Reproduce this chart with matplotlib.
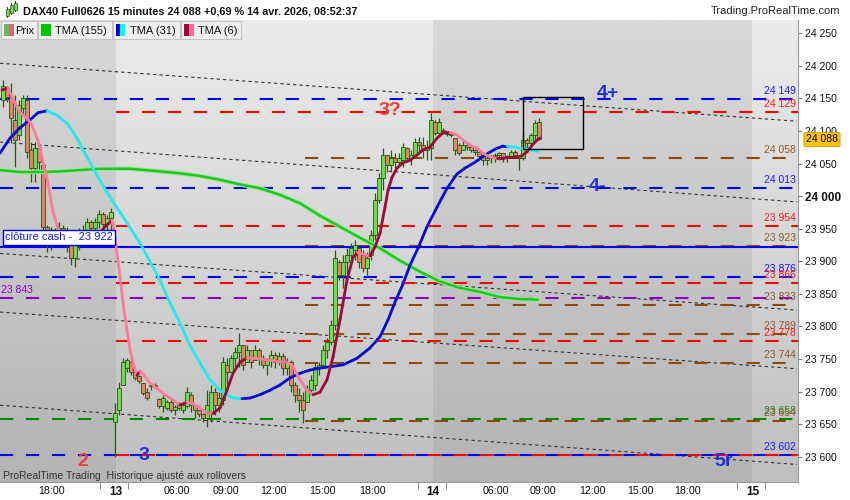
import matplotlib
matplotlib.use("Agg")
import matplotlib.pyplot as plt
import matplotlib.colors as mcolors
from matplotlib.patches import Rectangle
from matplotlib.collections import LineCollection
import numpy as np

plt.rcParams['font.family'] = ['Liberation Sans', 'DejaVu Sans']
plt.rcParams['lines.scale_dashes'] = False

# ---------------- data ----------------
opens = [24148, 24166, 24152, 24117, 24094, 24135, 24148, 24071, 24043, 24074, 24048, 23953, 23933, 23945,
         23936, 23951, 23933, 23943, 23905, 23925, 23940, 23948, 23960, 23951, 23960, 23972, 23957, 23966,
         23653, 23672, 23710, 23736, 23745, 23730, 23724, 23713, 23699, 23708, 23710, 23689, 23678, 23675,
         23684, 23672, 23682, 23672, 23678, 23695, 23679, 23672, 23666, 23659, 23669, 23699, 23679, 23687,
         23741, 23730, 23751, 23761, 23771, 23745, 23764, 23748, 23764, 23751, 23741, 23748, 23756, 23745,
         23755, 23736, 23745, 23710, 23695, 23687, 23684, 23702, 23710, 23738, 23741, 23764, 23776, 23802,
         23899, 23879, 23899, 23910, 23917, 23920, 23910, 23890, 23910, 23940, 23994, 24028, 24063, 24048,
         24058, 24052, 24055, 24074, 24058, 24063, 24083, 24078, 24071, 24074,
         24114, 24097, 24101, 24098, 24095, 24089, 24078, 24071, 24078, 24075, 24071, 24068, 24062, 24055,
         24058, 24062, 24063, 24066, 24058, 24062, 24068, 24063, 24058, 24086, 24081, 24094, 24114]
highs = [24178, 24169, 24174, 24155, 24148, 24155, 24155, 24083, 24083, 24078, 24048, 23956, 23953, 23951,
         23960, 23956, 23953, 23943, 23933, 23951, 23956, 23966, 23963, 23966, 23979, 23976, 23971, 23982,
         23682, 23715, 23751, 23751, 23751, 23733, 23725, 23713, 23705, 23713, 23713, 23690, 23695, 23687,
         23687, 23679, 23684, 23682, 23707, 23699, 23679, 23672, 23667, 23702, 23710, 23705, 23699, 23753,
         23751, 23756, 23768, 23790, 23771, 23771, 23764, 23771, 23767, 23756, 23751, 23764, 23761, 23761,
         23759, 23751, 23748, 23715, 23705, 23699, 23710, 23725, 23744, 23745, 23771, 23782, 23810, 23917,
         23902, 23910, 23920, 23928, 23933, 23925, 23917, 23914, 23948, 24005, 24035, 24074, 24063, 24071,
         24066, 24066, 24081, 24075, 24071, 24089, 24091, 24091, 24086, 24128,
         24117, 24120, 24105, 24100, 24097, 24089, 24081, 24086, 24083, 24077, 24072, 24069, 24066, 24062,
         24063, 24066, 24068, 24066, 24063, 24071, 24071, 24063, 24098, 24089, 24097, 24117, 24120]
lows = [24137, 24144, 24081, 24045, 24086, 24124, 24058, 24022, 24022, 24040, 23945, 23914, 23917, 23925,
        23930, 23925, 23914, 23894, 23891, 23917, 23925, 23940, 23940, 23945, 23951, 23951, 23945, 23943,
        23600, 23664, 23710, 23730, 23725, 23718, 23713, 23695, 23687, 23702, 23705, 23675, 23669, 23672,
        23669, 23664, 23672, 23667, 23675, 23669, 23659, 23661, 23653, 23646, 23653, 23664, 23669, 23679,
        23699, 23730, 23736, 23738, 23733, 23745, 23736, 23748, 23741, 23736, 23725, 23738, 23736, 23741,
        23725, 23725, 23699, 23684, 23669, 23652, 23684, 23699, 23702, 23725, 23738, 23751, 23771, 23794,
        23871, 23859, 23879, 23894, 23902, 23890, 23884, 23879, 23902, 23933, 23989, 24009, 24037, 24037,
        24043, 24048, 24045, 24052, 24048, 24060, 24066, 24058, 24055, 24055,
        24094, 24094, 24097, 24092, 24091, 24063, 24063, 24071, 24071, 24068, 24063, 24058, 24048, 24048,
        24051, 24052, 24055, 24052, 24052, 24058, 24060, 24040, 24055, 24074, 24075, 24086, 24086]
closes = [24169, 24152, 24120, 24086, 24140, 24151, 24068, 24043, 24074, 24052, 23953, 23933, 23945, 23936,
          23951, 23933, 23943, 23905, 23925, 23940, 23948, 23960, 23951, 23960, 23972, 23957, 23966, 23976,
          23667, 23705, 23745, 23748, 23730, 23721, 23716, 23698, 23690, 23710, 23708, 23678, 23690, 23684,
          23672, 23676, 23675, 23679, 23699, 23679, 23672, 23666, 23659, 23679, 23699, 23679, 23690, 23745,
          23730, 23751, 23761, 23771, 23741, 23764, 23745, 23764, 23751, 23741, 23748, 23756, 23745, 23755,
          23736, 23745, 23710, 23695, 23687, 23672, 23702, 23718, 23738, 23741, 23764, 23776, 23802, 23905,
          23879, 23899, 23910, 23920, 23925, 23899, 23890, 23905, 23940, 23994, 24028, 24063, 24048, 24058,
          24052, 24058, 24075, 24058, 24063, 24083, 24078, 24071, 24075, 24117,
          24097, 24114, 24100, 24095, 24094, 24071, 24066, 24078, 24075, 24071, 24068, 24062, 24055, 24058,
          24062, 24063, 24066, 24058, 24062, 24068, 24063, 24058, 24086, 24081, 24094, 24112, 24088]

tma6_x = [-0.25, 1.25, 3, 4.25, 6, 7.25, 8.5, 9.25, 10, 11, 11.75, 12.5, 13.5, 14.25, 17.25, 20.25, 22.5,
          23.5, 25.5, 27.25, 28, 28.75, 29.5, 30.25, 31, 31.75, 32.5, 33.5, 34.25, 35, 36.75, 38.5, 40.5,
          42.5, 44.25, 46, 47.5, 49.25, 51, 52.5, 54.25, 56, 57.5, 59.25, 61, 62.5, 64.25, 66, 68.5, 71,
          72.5, 74.25, 76, 77.5, 79.25, 81, 82.5, 84.25, 86, 87.5, 88.75, 90.5, 91.75, 93, 94.25, 95.5,
          96.25, 97.25, 98.5, 100, 101.75, 103.5, 105, 106.75, 108.5, 110, 111.75, 113.5, 115, 116.75,
          118.5, 120, 121.75, 123.5, 125, 126.75, 128.5, 129.75, 131, 132.25, 133.5, 134.25]
tma6_y = [24163, 24166, 24143, 24128, 24120, 24109, 24089, 24074, 24052, 24028, 24002, 23976, 23956, 23942,
          23934, 23930, 23928, 23939, 23953, 23963, 23937, 23899, 23864, 23825, 23794, 23764, 23745, 23725,
          23731, 23727, 23713, 23705, 23695, 23687, 23679, 23684, 23681, 23675, 23667, 23666, 23675, 23702,
          23728, 23745, 23752, 23751, 23750, 23749, 23746, 23745, 23738, 23718, 23702, 23695, 23699, 23718,
          23753, 23810, 23871, 23906, 23913, 23910, 23908, 23922, 23943, 23983, 24009, 24029, 24043, 24051,
          24055, 24063, 24071, 24075, 24089, 24097, 24098, 24094, 24086, 24078, 24074, 24066, 24060, 24058,
          24058, 24060, 24060, 24062, 24068, 24078, 24086, 24089]

tma31_x = [-0.75, 1.75, 4.25, 6.75, 8.75, 11, 13.5, 16, 18.5, 21, 23.5, 26, 28.5, 31, 34.25, 39.25, 41.75,
           44.25, 46.75, 49.25, 51.75, 54.25, 56, 57.5, 59.75, 61.75, 64.25, 66.75, 69.25, 71.75, 74.25,
           76.75, 79.25, 81.75, 85, 88.5, 91.75, 94.25, 96.25, 98.25, 100, 101.75, 103.75, 106, 108.5, 111,
           113.5, 115.5, 118, 120.5, 123, 125, 126, 129.25, 133.75]
tma31_y = [24066, 24089, 24105, 24117, 24128, 24131, 24124, 24112, 24089, 24060, 24032, 24006, 23982, 23959,
           23928, 23871, 23836, 23805, 23771, 23744, 23718, 23702, 23695, 23690, 23689, 23690, 23695, 23702,
           23710, 23721, 23728, 23733, 23736, 23738, 23741, 23751, 23767, 23784, 23810, 23841, 23865, 23894,
           23920, 23953, 23983, 24012, 24034, 24043, 24052, 24063, 24072, 24077, 24077, 24074, 24069]

tma155_x = [-0.75, 4.25, 9.25, 14.25, 19.25, 24.25, 31.75, 39.25, 44.25, 49.25, 54.25, 59.25, 64.25, 69.25,
            74.25, 79.25, 84.25, 89.25, 94.25, 99.25, 104.25, 109.25, 114.25, 119.25, 124.25, 129.25, 133.75]
tma155_y = [24040, 24037, 24037, 24038, 24040, 24042, 24042, 24038, 24035, 24031, 24025, 24018, 24012, 24002,
            23989, 23970, 23953, 23936, 23920, 23901, 23884, 23869, 23859, 23853, 23845, 23842, 23841]

# dotted trend lines (start / end)
trend_x = [-0.75, 198.5]
trend_start = [24204, 24083, 23912, 23822, 23679]
trend_end = [24115, 23991, 23825, 23735, 23588]

# horizontal levels
level_values = [24149, 24129, 24058, 24013, 23954, 23923, 23876, 23866, 23843, 23833, 23789, 23778, 23744,
                23658, 23654, 23602, 23602]
level_kinds = ['blue', 'red', 'brown', 'blue', 'red', 'brown', 'blue', 'red', 'purple', 'brown', 'brown',
               'red', 'brown', 'green', 'brown', 'blue', 'red']
level_labeled = [True, True, True, True, True, True, True, True, False, True, True, True, True, True, True,
                 True, False]
cash_close = 23922

# x-axis labels (bar positions)
xtick_pos = [12.25, 28.25, 43.5, 55.75, 67.5, 79.75, 92.5, 107.5, 123.25, 135, 147.25, 159.25, 171.25, 187.5]
xtick_lab = ['18:00', '13', '06:00', '09:00', '12:00', '15:00', '18:00', '14', '06:00', '09:00', '12:00',
             '15:00', '18:00', '15']
day_starts = [28.25, 107.5, 187.25]

annotations = [('3?', 96.75, 24132, 'red'), ('4+', 151.25, 24158, 'blue'), ('4-', 148.5, 24015, 'blue'),
               ('2', 20, 23593, 'red'), ('3', 35.25, 23602, 'blue'), ('5r', 180.25, 23592, 'blue')]
box_x = [130, 145]
box_y = [24072, 24152]

# ---------------- styles ----------------
COL = {'blue': '#0000ff', 'red': '#ff0000', 'brown': '#8b4a0f', 'purple': '#8a00c8', 'green': '#008a00'}
LCOL = {'blue': '#1a1aff', 'red': '#ff1a1a', 'brown': '#8b5a2b', 'purple': '#8a00c8', 'green': '#2e8b2e'}
START = {'blue': -0.75, 'purple': -0.75, 'green': -0.75, 'red': day_starts[0], 'brown': 75.5}

W, H = 850, 500
fig = plt.figure(figsize=(W / 100, H / 100), dpi=100)
fig.patch.set_facecolor('white')
PL, PR, PT, PB = 0, 798, 20, 482
ax = fig.add_axes([PL / W, 1 - PB / H, (PR - PL) / W, (PB - PT) / H])
XL = (-0.75, 198.75)
YL = (23561.1, 24270.4)


def grad(top, bot):
    t = np.array(mcolors.to_rgb(top))
    b = np.array(mcolors.to_rgb(bot))
    s = np.linspace(0, 1, 256)[:, None]
    return (t * (1 - s) + b * s)[:, None, :]


bounds = [XL[0]] + day_starts + [XL[1]]
for k in range(len(bounds) - 1):
    g = grad('#d9d9d9', '#b4b4b4') if k % 2 == 0 else grad('#ececec', '#bfbfbf')
    ax.imshow(g, extent=(bounds[k], bounds[k + 1], YL[0], YL[1]), origin='upper', aspect='auto',
              zorder=0, interpolation='bilinear')

# trend lines
for a, b in zip(trend_start, trend_end):
    ax.plot(trend_x, [a, b], color='#333333', lw=0.8, dashes=(2.4, 2.2), zorder=2)

# levels
for v, k in zip(level_values, level_kinds):
    ax.plot([START[k], XL[1]], [v, v], color=COL[k], lw=1.5, dashes=(9.5, 9.2), zorder=2,
            solid_capstyle='butt', dash_capstyle='butt')
ax.plot([XL[0], XL[1]], [cash_close, cash_close], color='#0000ff', lw=1.5, zorder=2)


def fmt(v):
    return f"{v:,.0f}".replace(",", " ")


for v, k, lab in zip(level_values, level_kinds, level_labeled):
    if lab:
        ax.annotate(fmt(v), xy=(198.2, v), xytext=(0, 2.2), textcoords='offset points', ha='right',
                    va='bottom', color=LCOL[k], fontsize=7.5, zorder=9)
ax.annotate(fmt(23843), xy=(-0.4, 23843), xytext=(0, 2.2), textcoords='offset points', ha='left',
            va='bottom', color=LCOL['purple'], fontsize=7.5, zorder=9)
ax.annotate(f"clôture cash -  {fmt(cash_close)}", xy=(0.0, cash_close), xytext=(1.5, 3.2),
            textcoords='offset points', ha='left', va='bottom', color='#1a1aee', fontsize=8, zorder=10,
            bbox=dict(boxstyle='square,pad=0.22', fc='white', ec='#0000ee', lw=1.0))

# candles
xs = np.arange(len(closes))
o = np.array(opens, float)
h = np.array(highs, float)
l = np.array(lows, float)
c = np.array(closes, float)
up = c >= o
ax.vlines(xs, l, h, color='#2a5512', lw=0.9, zorder=4)
bh = np.maximum(np.abs(c - o), 1.5)
ax.bar(xs, bh, bottom=np.minimum(o, c), width=0.78,
       color=np.where(up, '#6fdc55', '#e8806a'), edgecolor='#2a5512', linewidth=0.6, zorder=5)


def slope_line(xv, yv, rise, fall, lw, z):
    xv = np.asarray(xv, float)
    yv = np.asarray(yv, float)
    segs = [[(xv[i], yv[i]), (xv[i + 1], yv[i + 1])] for i in range(len(xv) - 1)]
    cols = [rise if yv[i + 1] >= yv[i] else fall for i in range(len(xv) - 1)]
    lc = LineCollection(segs, colors=cols, linewidths=lw, zorder=z, capstyle='round', joinstyle='round')
    ax.add_collection(lc)


ax.plot(tma155_x, tma155_y, color='#9be89b', lw=3.2, zorder=6, solid_capstyle='round')
ax.plot(tma155_x, tma155_y, color='#1ec81e', lw=1.8, zorder=6, solid_capstyle='round')
slope_line(tma31_x, tma31_y, '#0a0ad0', '#22e8f0', 2.0, 7)
slope_line(tma6_x, tma6_y, '#9a0a3a', '#ff7a9a', 2.0, 7)

ax.add_patch(Rectangle((box_x[0], box_y[0]), box_x[1] - box_x[0], box_y[1] - box_y[0], fill=False,
                       ec='black', lw=1.0, zorder=8))

for t, xv, yv, k in annotations:
    col = '#ee3b3b' if k == 'red' else '#1f2fe0'
    ax.text(xv, yv, t, color=col, fontsize=14, fontweight='bold', ha='center', va='center', zorder=9)

ax.set_xlim(*XL)
ax.set_ylim(*YL)

# axes styling
for s in ['left', 'top']:
    ax.spines[s].set_visible(False)
for s in ['right', 'bottom']:
    ax.spines[s].set_color('#9a9a9a')
    ax.spines[s].set_linewidth(0.8)
ax.yaxis.tick_right()
yt = list(range(23600, 24251, 50))
ax.set_yticks(yt)
ax.set_yticklabels([fmt(v) for v in yt])
ax.tick_params(axis='y', which='major', length=3, width=0.7, color='#777777', labelsize=7.5,
               labelcolor='#111111', pad=2)
for lab, v in zip(ax.get_yticklabels(), yt):
    if v == 24000:
        lab.set_fontweight('bold')
        lab.set_fontsize(8.5)
ax.set_xticks(xtick_pos)
ax.set_xticklabels(xtick_lab)
ax.tick_params(axis='x', which='major', length=0, labelsize=7.7, labelcolor='#111111', pad=3)
for lab, t in zip(ax.get_xticklabels(), xtick_lab):
    if ':' not in t:
        lab.set_fontweight('bold')
        lab.set_fontsize(8.5)
ax.set_xticks([24.25, 31.25, 103.75, 110.75, 183.5, 190.5], minor=True)
ax.tick_params(axis='x', which='minor', length=5, width=0.7, color='#888888')

# last-price marker
fig.text(822 / W, 1 - 139.5 / H, fmt(closes[-1]), ha='center', va='center', fontsize=7.5, color='black',
         bbox=dict(boxstyle='round,pad=0.2,rounding_size=0.15', fc='#ffc20e', ec='#c89a00', lw=0.6), zorder=20)

# footer
fig.text(3 / W, 1 - 476 / H, "ProRealTime Trading  Historique ajusté aux rollovers", ha='left', va='center',
         fontsize=7.5, color='#333333')

# header
fig.text(23 / W, 1 - 11 / H, "DAX40 Full0626 15 minutes 24 088 +0,69 % 14 avr. 2026, 08:52:37", ha='left',
         va='center', fontsize=7.8, fontweight='bold', color='#111111')
fig.text(840 / W, 1 - 11 / H, "Trading.ProRealTime.com", ha='right', va='center', fontsize=8,
         color='#222222')


def fpatch(x0, y0, x1, y1, **kw):
    fig.add_artist(Rectangle((x0 / W, 1 - y1 / H), (x1 - x0) / W, (y1 - y0) / H,
                             transform=fig.transFigure, **kw))


# icon
for (x0, y0, y1) in [(6, 9, 16), (10, 5, 13), (14, 3, 10)]:
    fpatch(x0 + 1, y0 - 2, x0 + 2, y1 + 2, fc='#2a5512', ec='none')
    fpatch(x0, y0, x0 + 3, y1, fc='#6fdc55', ec='#2a5512', lw=0.5)

# legend boxes
boxes = [(1, 37, 'Prix', ['#5cbf5c', '#e06868'], 15),
         (38, 112, 'TMA (155)', ['#00c800'], 55),
         (113, 180, 'TMA (31)', ['#0000d0', '#00ffff'], 130),
         (181, 241, 'TMA (6)', ['#9a0a3a', '#ff6a99'], 198)]
for x0, x1, txt, cols, tx in boxes:
    fpatch(x0, 21, x1, 39, fc='#efefef', ec='#c4c4c4', lw=0.8)
    sx = x0 + 2.5
    sw = 10.0 / len(cols)
    for cc in cols:
        fpatch(sx, 24.5, sx + sw, 35.5, fc=cc, ec='none')
        sx += sw
    fig.text(tx / W, 1 - 30.5 / H, txt, ha='left', va='center', fontsize=8, color='#111111')

fig.savefig('out.png', dpi=100, facecolor=fig.get_facecolor())
